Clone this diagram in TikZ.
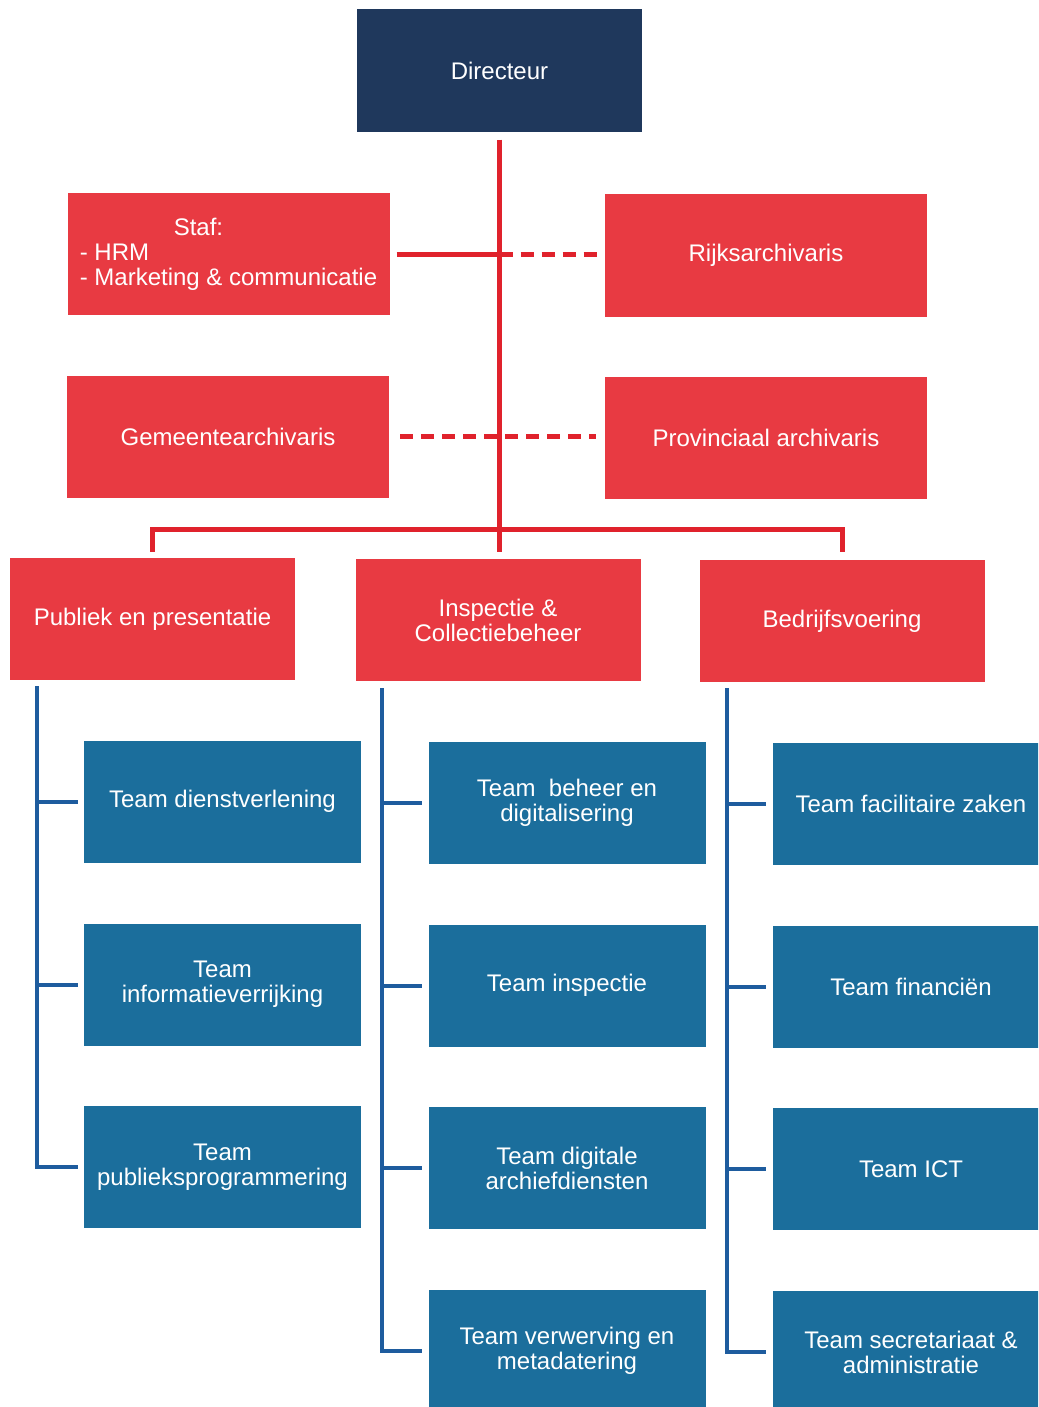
\documentclass[tikz,border=0pt]{standalone}
\usepackage{fontspec}
\setmainfont{Liberation Sans}
\usepackage{xcolor}
\usetikzlibrary{positioning}
\definecolor{dirnavy}{RGB}{31,56,92}
\definecolor{orgred}{RGB}{232,58,66}
\definecolor{teamblue}{RGB}{27,110,156}
\definecolor{redwire}{RGB}{224,34,44}
\definecolor{bluewire}{RGB}{30,92,158}

\begin{document}
\begin{tikzpicture}[x=1pt,y=-1pt,
    every node/.style={inner sep=0pt,text=white,font=\fontsize{24}{25}\selectfont,align=center},
    topbox/.style={fill=dirnavy,minimum width=285pt,minimum height=123pt},
    redbox/.style={fill=orgred,minimum width=322pt,minimum height=122pt},
    unitbox/.style={fill=orgred,minimum width=285pt,minimum height=122pt},
    teambox/.style={fill=teamblue,minimum width=277pt,minimum height=122pt},
    redline/.style={draw=redwire,line width=5pt},
    blueline/.style={draw=bluewire,line width=4pt},
    dashline/.style={redline,dash pattern=on 13pt off 8pt}]
    \clip (0,0) rectangle (1038,1407);
    % top and staff
    \node[topbox] (dir) at (499.5,71) {Directeur};
    \node[redbox,align=left] (staf) at (228.5,254) {\hspace*{94pt}Staf:\\- HRM\\- Marketing \& communicatie};
    \node[redbox] (rijks) at (766,255.5) {Rijksarchivaris};
    \node[redbox] (gem) at (228,436.5) {Gemeentearchivaris};
    \node[redbox] (prov) at (766,438) {Provinciaal archivaris};
    % units
    \node[unitbox] (pub) at (152.5,619) {Publiek en presentatie};
    \node[unitbox] (insp) at (498,620) {Inspectie \&\\Collectiebeheer};
    \node[unitbox] (bed) at (842,621) {Bedrijfsvoering};
    % teams
    \node[teambox] (t11) at (222.5,801.5) {Team dienstverlening};
    \node[teambox] (t12) at (222.5,984.5) {Team\\informatieverrijking};
    \node[teambox] (t13) at (222.5,1167) {Team\\publieksprogrammering};
    \node[teambox] (t21) at (567,802.5) {Team\ \ beheer en\\digitalisering};
    \node[teambox] (t22) at (567,985.5) {Team inspectie};
    \node[teambox] (t23) at (567,1168) {Team digitale\\archiefdiensten};
    \node[teambox] (t24) at (567,1351) {Team verwerving en\\metadatering};
    \node[teambox] (t31) at (911,803.5) {Team facilitaire zaken};
    \node[teambox] (t32) at (911,986.5) {Team financiën};
    \node[teambox] (t33) at (911,1169) {Team ICT};
    \node[teambox] (t34) at (911,1352) {Team secretariaat \&\\administratie};
    % red lines
    \coordinate (bus) at (498,529);
    \draw[redline,shorten <=7pt,shorten >=7pt] (dir.south) -- (dir.south |- insp.north);
    \draw[redline,shorten <=6pt,shorten >=8pt] (pub.north) |- (bus) -| (bed.north);
    \coordinate (stafx) at (dir.south |- staf.east);
    \draw[redline,shorten <=7pt] (staf.east) -- (stafx);
    \draw[dashline,shorten >=7pt] (stafx) -- (stafx -| rijks.west);
    \draw[dashline,shorten <=11pt,shorten >=9pt] (gem.east) -- (gem.east -| prov.west);
    % blue lines
    \coordinate (c1) at (37,686);
    \coordinate (c2) at (382,688);
    \coordinate (c3) at (727,688);
    \draw[blueline] (c1) |- ([xshift=-6pt]t13.west);
    \draw[blueline] (c2) |- ([xshift=-6pt]t24.west);
    \draw[blueline] (c3) |- ([xshift=-6pt]t34.west);
    \draw[blueline] (c1 |- t11.west) -- ([xshift=-6pt]t11.west);
    \draw[blueline] (c1 |- t12.west) -- ([xshift=-6pt]t12.west);
    \draw[blueline] (c2 |- t21.west) -- ([xshift=-6pt]t21.west);
    \draw[blueline] (c2 |- t22.west) -- ([xshift=-6pt]t22.west);
    \draw[blueline] (c2 |- t23.west) -- ([xshift=-6pt]t23.west);
    \draw[blueline] (c3 |- t31.west) -- ([xshift=-6pt]t31.west);
    \draw[blueline] (c3 |- t32.west) -- ([xshift=-6pt]t32.west);
    \draw[blueline] (c3 |- t33.west) -- ([xshift=-6pt]t33.west);
\end{tikzpicture}
\end{document}
